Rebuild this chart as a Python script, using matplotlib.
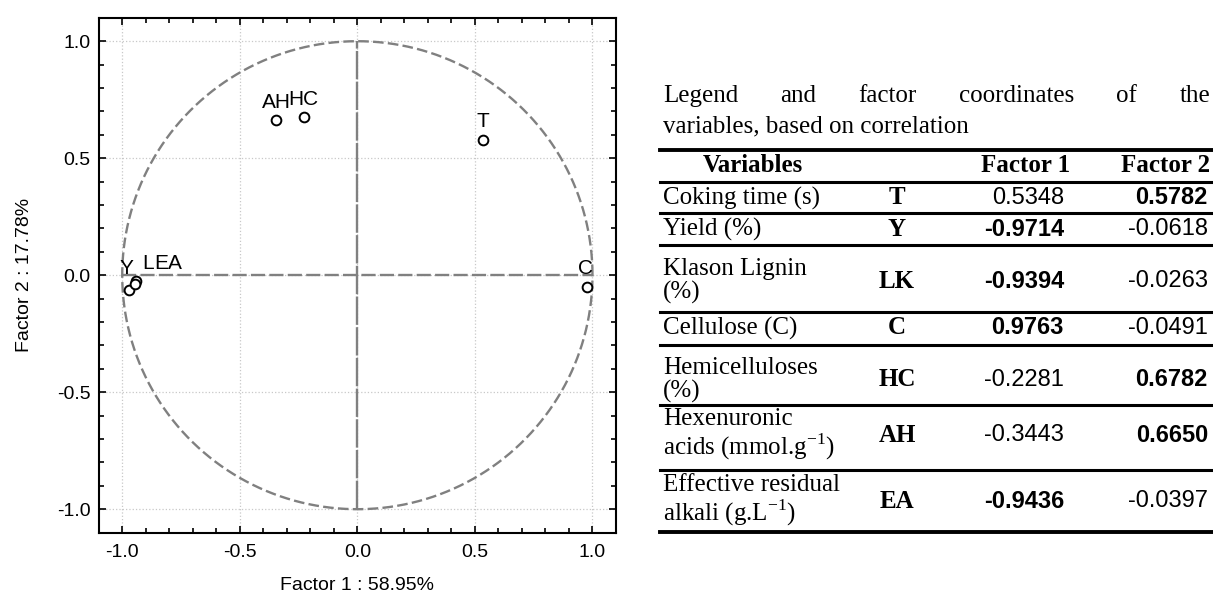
import matplotlib
matplotlib.use('Agg')
import matplotlib.pyplot as plt
import numpy as np
from matplotlib.lines import Line2D
from matplotlib.ticker import MultipleLocator

plt.rcParams['font.family'] = ['Liberation Sans', 'DejaVu Sans']
plt.rcParams['axes.unicode_minus'] = False
plt.rcParams['mathtext.fontset'] = 'custom'
plt.rcParams['mathtext.rm'] = 'Liberation Serif'

# factor coordinates
codes = ['T', 'Y', 'LK', 'C', 'HC', 'AH', 'EA']
names = ['Coking time (s)', 'Yield (%)', 'Klason Lignin\n(%)', 'Cellulose (C)',
         'Hemicelluloses\n(%)', 'Hexenuronic\nacids (mmol.g$^{\\mathregular{-1}}$)',
         'Effective residual\nalkali (g.L$^{\\mathregular{-1}}$)']
factor1 = [0.5348, -0.9714, -0.9394, 0.9763, -0.2281, -0.3443, -0.9436]
factor2 = [0.5782, -0.0618, -0.0263, -0.0491, 0.6782, 0.6650, -0.0397]
# text shown next to each point (K of LK is hidden under EA in the original)
point_text = ['T', 'Y', 'L', 'C', 'HC', 'AH', 'EA']

W, H = 1213, 601
fig = plt.figure(figsize=(W / 100, H / 100), dpi=100)

def fx(x):
    return x / W

def fy(y):
    return 1 - y / H

ax = fig.add_axes([98.7 / W, 1 - 532.6 / H, 517.3 / W, 514.8 / H])
ax.set_xlim(-1.1, 1.1)
ax.set_ylim(-1.1, 1.1)
ax.xaxis.set_major_locator(MultipleLocator(0.5))
ax.yaxis.set_major_locator(MultipleLocator(0.5))
ax.xaxis.set_minor_locator(MultipleLocator(0.1))
ax.yaxis.set_minor_locator(MultipleLocator(0.1))
ax.xaxis.set_major_formatter(lambda v, p: f'{v:.1f}')
ax.yaxis.set_major_formatter(lambda v, p: f'{v:.1f}')
ax.tick_params(which='both', direction='in', top=True, right=True, width=1.2,
               labelsize=14)
ax.tick_params(axis='x', pad=8)
ax.tick_params(axis='y', pad=6)
ax.tick_params(which='major', length=5)
ax.tick_params(which='minor', length=3.5)
ax.grid(True, which='major', color='#c8c8c8', linestyle=':', linewidth=0.9)
for s in ax.spines.values():
    s.set_linewidth(1.5)

# unit circle and centre lines
t = np.linspace(0, 2 * np.pi, 400)
ax.plot(np.cos(t), np.sin(t), color='#808080', lw=1.7, dashes=(4.5, 1.8))
ax.plot([-1, 1], [0, 0], color='#808080', lw=1.7, dashes=(6, 1.8))
ax.plot([0, 0], [-1, 1], color='#808080', lw=1.7, dashes=(12, 1))

ax.plot(factor1, factor2, 'o', mfc='white', mec='black', ms=7, mew=1.4,
        linestyle='none')
offsets = {'T': (0, 9, 'center'), 'Y': (-1.5, 11.5, 'center'),
           'C': (-1, 9, 'center'), 'HC': (0, 8, 'center'),
           'AH': (0, 8, 'center'), 'L': (4.3, 9, 'left'),
           'EA': (13.6, 11.3, 'left')}
for x, y, lab in zip(factor1, factor2, point_text):
    dx, dy, ha = offsets[lab]
    ax.annotate(lab, (x, y), xytext=(dx, dy), textcoords='offset points',
                ha=ha, va='baseline', fontsize=15)

ax.set_xlabel('Factor 1 : 58.95%', fontsize=14)
ax.set_ylabel('Factor 2 : 17.78%', fontsize=14)
ax.xaxis.set_label_coords(0.5, -0.086)
ax.yaxis.set_label_coords(-0.127, 0.5)

# ---- table on the right ----
serif = ['Liberation Serif', 'DejaVu Serif']
tsize = 18
vsize = 17
left, right = 663, 1210

# justified first title line
words = 'Legend and factor coordinates of the'.split()
wt = [fig.text(0, fy(96), w, family=serif, fontsize=tsize, va='center') for w in words]
fig.canvas.draw()
r = fig.canvas.get_renderer()
widths = [w.get_window_extent(r).width for w in wt]
gap = (right - left - sum(widths)) / (len(words) - 1)
xpos = left
for w, wd in zip(wt, widths):
    w.set_x(fx(xpos))
    xpos += wd + gap
fig.text(fx(left), fy(126), 'variables, based on correlation', family=serif,
         fontsize=tsize, va='center')

def rule(y, lw):
    fig.add_artist(Line2D([fx(660), fx(1213)], [fy(y), fy(y)], color='black',
                          lw=lw, transform=fig.transFigure))

rule(150, 2.8)
fig.text(fx(753), fy(166), 'Variables', family=serif, fontsize=tsize,
         fontweight='bold', ha='center', va='center')
fig.text(fx(1026), fy(166), 'Factor 1', family=serif, fontsize=tsize,
         fontweight='bold', ha='center', va='center')
fig.text(fx(1166), fy(166), 'Factor 2', family=serif, fontsize=tsize,
         fontweight='bold', ha='center', va='center')
rule(182, 2.2)

row_centres = [198, 229, 281, 328, 380, 435, 501]
row_rules = [213, 245, 312, 345, 405, 470, 532]
for i in range(len(codes)):
    yc = row_centres[i]
    fig.text(fx(left), fy(yc), names[i], family=serif, fontsize=tsize,
             va='center', linespacing=1.1)
    fig.text(fx(897), fy(yc), codes[i], family=serif, fontsize=tsize,
             fontweight='bold', ha='center', va='center')
    b1 = abs(factor1[i]) > abs(factor2[i])
    fig.text(fx(1064), fy(yc), f'{factor1[i]:.4f}', fontsize=vsize,
             fontweight='bold' if b1 else 'normal', ha='right', va='center')
    fig.text(fx(1208), fy(yc), f'{factor2[i]:.4f}', fontsize=vsize,
             fontweight='normal' if b1 else 'bold', ha='right', va='center')
    rule(row_rules[i], 2.8 if i == len(codes) - 1 else 2.2)

fig.savefig('out.png', dpi=100)
